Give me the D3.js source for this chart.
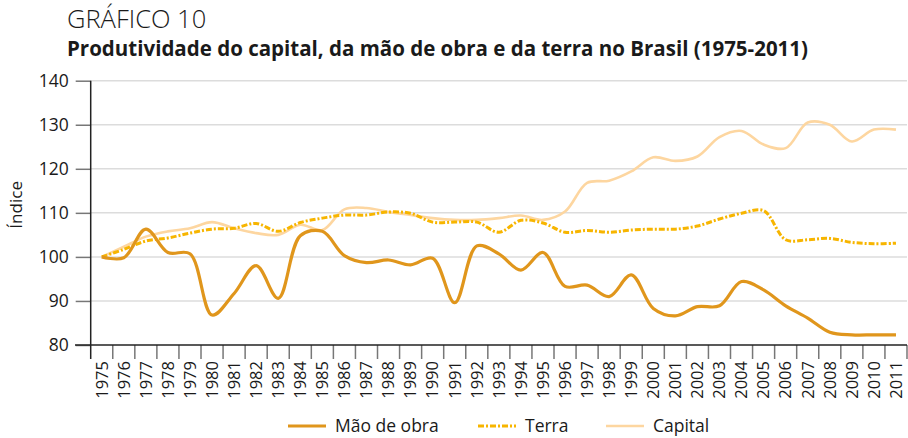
<!DOCTYPE html>
<html><head><meta charset="utf-8">
<script src="https://cdn.jsdelivr.net/npm/d3@7"></script>
<style>body{margin:0;background:#fff}svg{display:block}text{font-family:"Open Sans",sans-serif;fill:#1a1a1a}</style>
</head><body><svg id="c" width="908" height="438"></svg>
<script>
const years = d3.range(1975, 2012);
const maoDeObra = [100, 99.8, 106.3, 101.0, 100.7, 86.8, 91.7, 98.0, 90.6, 104.8, 105.8, 100.3, 98.7, 99.3, 98.2, 99.7, 89.6, 102.5, 100.7, 97.0, 101.0, 93.3, 93.6, 91.0, 95.9, 88.3, 86.6, 88.7, 88.9, 94.4, 92.5, 88.9, 86.1, 82.9, 82.3, 82.3, 82.3];
const terra = [100, 101.7, 103.6, 104.3, 105.4, 106.3, 106.5, 107.6, 105.8, 107.8, 108.8, 109.5, 109.5, 110.2, 109.9, 107.9, 107.9, 107.9, 105.6, 108.3, 107.7, 105.6, 106.0, 105.6, 106.1, 106.3, 106.3, 107.0, 108.6, 109.9, 110.5, 103.9, 103.9, 104.2, 103.3, 103.0, 103.1];
const capital = [100, 102.3, 104.6, 105.8, 106.5, 107.9, 106.5, 105.4, 105.0, 107.3, 106.1, 110.8, 111.1, 110.2, 109.5, 108.8, 108.4, 108.4, 108.8, 109.4, 108.4, 110.3, 116.8, 117.3, 119.4, 122.6, 121.8, 122.8, 127.2, 128.6, 125.5, 124.7, 130.5, 130.0, 126.2, 128.9, 128.9];
const yTicks = [80, 90, 100, 110, 120, 130, 140];
const seriesNames = ["Mão de obra", "Terra", "Capital"];
const title1 = "GRÁFICO 10";
const title2 = "Produtividade do capital, da mão de obra e da terra no Brasil (1975-2011)";
const yLabel = "Índice";

const svg = d3.select("#c");
const L = 90.7, R = 907, T = 80.7, B = 345;
const x = d3.scaleBand().domain(years).range([L, R]).padding(0);
const y = d3.scaleLinear().domain([80, 140]).range([B, T]);
const cx = d => x(d) + x.bandwidth() / 2;

// titles
svg.append("text").attr("x", 67).attr("y", 28).attr("font-size", 25.5).attr("font-weight", 300).text(title1);
svg.append("text").attr("x", 67).attr("y", 56).attr("font-size", 20.5).attr("font-weight", 700).text(title2);

// grid
svg.append("g").selectAll("line").data(yTicks.filter(t => t > 80)).join("line")
  .attr("x1", L).attr("x2", R).attr("y1", d => y(d)).attr("y2", d => y(d))
  .attr("stroke", "#dcdcdc").attr("stroke-width", 1.5);

// y axis
const ya = svg.append("g").attr("transform", `translate(${L},0)`)
  .call(d3.axisLeft(y).tickValues(yTicks).tickSize(15).tickPadding(7));
ya.select(".domain").remove();
ya.selectAll(".tick line").attr("stroke", "#777").attr("stroke-width", 1.5);
ya.selectAll(".tick text").attr("font-size", 17.5).attr("font-family", "Open Sans").attr("fill", "#1a1a1a");
svg.append("text").attr("transform", `translate(22,${(T + B) / 2 - 8}) rotate(-90)`)
  .attr("text-anchor", "middle").attr("font-size", 17).text(yLabel);

// x axis
const xa = svg.append("g").attr("transform", `translate(0,${B})`)
  .call(d3.axisBottom(x).tickSize(0).tickPadding(0));
xa.select(".domain").remove();
xa.selectAll(".tick text").attr("font-size", 16.5).attr("font-family", "Open Sans").attr("fill", "#1a1a1a")
  .attr("transform", "translate(0,16) rotate(-90)").attr("text-anchor", "end").attr("dy", "0.35em").attr("y", 0).attr("x", 0);
const bounds = years.map(d => x(d)).concat([R]);
svg.append("g").selectAll("line").data(bounds.slice(1)).join("line")
  .attr("x1", d => d).attr("x2", d => d).attr("y1", B).attr("y2", B + 14)
  .attr("stroke", "#777").attr("stroke-width", 1.5);
svg.append("line").attr("x1", 75).attr("x2", R).attr("y1", B).attr("y2", B).attr("stroke", "#222").attr("stroke-width", 1.5);
svg.append("line").attr("x1", L).attr("x2", L).attr("y1", T).attr("y2", B + 14).attr("stroke", "#222").attr("stroke-width", 1.5);

// lines
const line = d3.line().x((d, i) => cx(years[i])).y(d => y(d)).curve(d3.curveCatmullRom.alpha(0.5));
const styles = [
  {data: capital, color: "#fdd6a0", w: 2.6, dash: null},
  {data: terra, color: "#f7b500", w: 3, dash: "6,2,2,2"},
  {data: maoDeObra, color: "#e0961c", w: 3.2, dash: null}
];
styles.forEach(s => {
  svg.append("path").datum(s.data).attr("d", line).attr("fill", "none")
    .attr("stroke", s.color).attr("stroke-width", s.w).attr("stroke-dasharray", s.dash);
});

// legend
const leg = [
  {name: seriesNames[0], color: "#e0961c", w: 3.2, dash: null, x: 288},
  {name: seriesNames[1], color: "#f7b500", w: 3, dash: "6,2,2,2", x: 478},
  {name: seriesNames[2], color: "#fdd6a0", w: 2.6, dash: null, x: 606}
];
const lg = svg.append("g");
leg.forEach(l => {
  lg.append("line").attr("x1", l.x).attr("x2", l.x + 38).attr("y1", 426).attr("y2", 426)
    .attr("stroke", l.color).attr("stroke-width", l.w).attr("stroke-dasharray", l.dash);
  lg.append("text").attr("x", l.x + 47).attr("y", 432).attr("font-size", 17.5).text(l.name);
});
</script></body></html>
